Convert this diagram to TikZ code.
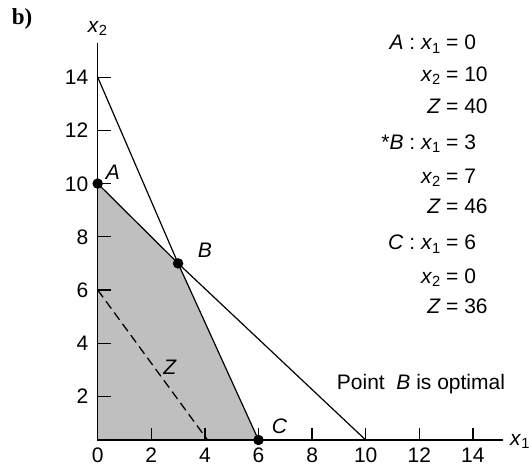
\documentclass[tikz,border=0pt]{standalone}
\usepackage{fontspec}
\setmainfont{Liberation Sans}
\newfontfamily\serifbold{Liberation Serif}
\begin{document}
\begin{tikzpicture}[x=26.8pt,y=26.6pt,
  every node/.style={inner sep=0pt, font=\fontsize{21}{25}\selectfont},
  dot/.style={circle, fill=black, minimum size=10.5pt},
  axisline/.style={line width=1.4pt},
  constraint/.style={line width=1.2pt},
  tickmark/.style={line width=1.3pt},
  zline/.style={line width=1.3pt, dash pattern=on 9pt off 5pt},
  region/.style={fill=black!25},
  lhs/.style={anchor=base east},
  rhs/.style={anchor=base west}]
\useasboundingbox (-97.7pt,-16.4pt) rectangle (431.3pt,449.6pt);
\def\ya{0.361}
% key points
\coordinate (O) at (0,\ya);
\coordinate (pA) at (0,10);
\coordinate (pB) at (3,7);
\coordinate (pC) at (6,\ya);
\coordinate (T) at (0,14);
\coordinate (E) at (10,\ya);
\coordinate (D1) at (0,6);
\coordinate (D2) at (4.1,\ya);
\coordinate (Ytop) at (0,15.30);
\coordinate (Xend) at (15.12,\ya);
% feasible region
\fill[region] (O) -- (pA) -- (pB) -- (pC) -- cycle;
% objective line
\draw[zline] (D1) -- (D2);
% constraints
\draw[constraint] (T) -- (pB) -- (pC);
\draw[constraint] (pA) -- (pB) -- (E);
% axes
\draw[axisline] (Ytop) -- (O) -- (Xend);
\foreach \v in {2,4,...,14} {
  \draw[tickmark] (0,\v) -- ++(13pt,0);
  \node[anchor=base east] at ([xshift=-9.2pt,yshift=-7.5pt]0,\v) {\v};
  \draw[tickmark] (\v,\ya) -- ++(0,12pt);
}
\foreach \v in {0,2,...,14} {
  \node[anchor=base] at ([yshift=-12.9pt]\v,0) {\v};
}
% points
\node[dot] (A) at (pA) {};
\node[dot] (B) at (pB) {};
\node[dot] (C) at (pC) {};
% labels
\node (lA) at (15.3pt,277.1pt) {\textit{A}};
\node (lB) at (107.3pt,199.1pt) {\textit{B}};
\node (lC) at (181.8pt,23.6pt) {\textit{C}};
\node (lZ) at (72.3pt,82.1pt) {\textit{Z}};
\node[anchor=base] (x2) at (0pt,416.9pt) {\textit{x}\textsubscript{2}};
\node[anchor=base west] (x1) at (412.3pt,4.6pt) {\textit{x}\textsubscript{1}};
\node[anchor=base west] (opt) at (239pt,60.6pt) {Point\ \ \textit{B} is optimal};
\node[anchor=base west, font=\fontsize{23}{26}\selectfont\serifbold\bfseries] (b) at (-86pt,424.6pt) {b)};
% solution table
\node[lhs] (r1l) at (343.3pt,399.6pt) {\textit{A} : \textit{x}\textsubscript{1}};
\node[rhs] (r1r) at (348.3pt,399.6pt) {= 0};
\node[lhs] (r2l) at (343.3pt,367.9pt) {\textit{x}\textsubscript{2}};
\node[rhs] (r2r) at (348.3pt,367.9pt) {= 10};
\node[lhs] (r3l) at (343.3pt,336.3pt) {\textit{Z}};
\node[rhs] (r3r) at (348.3pt,336.3pt) {= 40};
\node[lhs] (r4l) at (343.3pt,300.3pt) {*\textit{B} : \textit{x}\textsubscript{1}};
\node[rhs] (r4r) at (348.3pt,300.3pt) {= 3};
\node[lhs] (r5l) at (343.3pt,266.3pt) {\textit{x}\textsubscript{2}};
\node[rhs] (r5r) at (348.3pt,266.3pt) {= 7};
\node[lhs] (r6l) at (343.3pt,235.6pt) {\textit{Z}};
\node[rhs] (r6r) at (348.3pt,235.6pt) {= 46};
\node[lhs] (r7l) at (343.3pt,199.6pt) {\textit{C} : \textit{x}\textsubscript{1}};
\node[rhs] (r7r) at (348.3pt,199.6pt) {= 6};
\node[lhs] (r8l) at (343.3pt,166.3pt) {\textit{x}\textsubscript{2}};
\node[rhs] (r8r) at (348.3pt,166.3pt) {= 0};
\node[lhs] (r9l) at (343.3pt,136.3pt) {\textit{Z}};
\node[rhs] (r9r) at (348.3pt,136.3pt) {= 36};
\end{tikzpicture}
\end{document}
